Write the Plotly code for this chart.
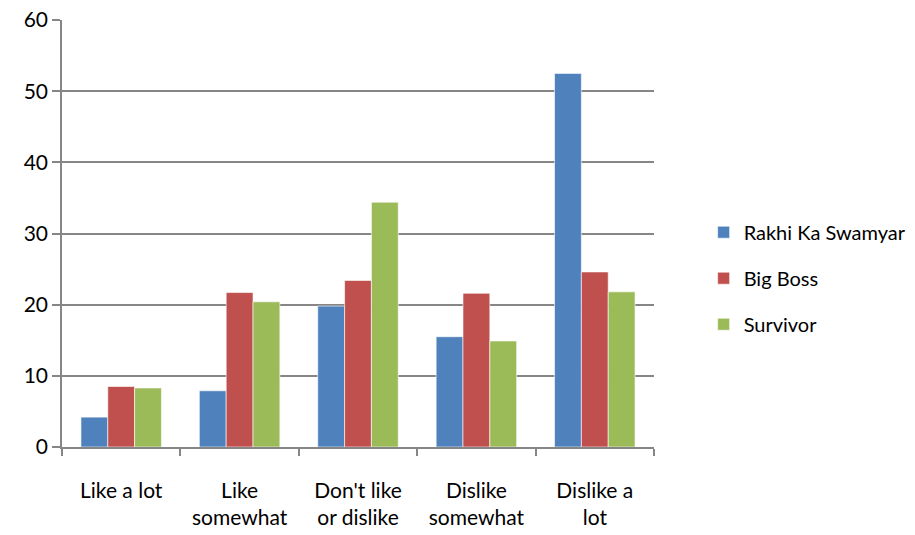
import plotly.graph_objects as go

categories = ["Like a lot", "Like<br>somewhat", "Don't like<br>or dislike", "Dislike<br>somewhat", "Dislike a<br>lot"]
series_names = ["Rakhi Ka Swamyar", "Big Boss", "Survivor"]
rakhi = [4.2, 7.9, 19.8, 15.5, 52.5]
big_boss = [8.5, 21.7, 23.4, 21.6, 24.6]
survivor = [8.3, 20.4, 34.4, 14.9, 21.8]
colors = ["#4F81BD", "#C0504D", "#9BBB59"]
y_ticks = [0, 10, 20, 30, 40, 50, 60]

fig = go.Figure()
for i, (name, vals) in enumerate(zip(series_names, [rakhi, big_boss, survivor])):
    fig.add_trace(go.Bar(
        x=categories, y=vals, name=name, legendgroup=name,
        marker=dict(color=colors[i], line=dict(color="rgba(255,255,255,0.6)", width=1)),
    ))

font_family = "Lato, Carlito, Calibri, sans-serif"
fig.update_layout(
    width=915, height=535,
    margin=dict(l=62, r=261, t=20, b=88, autoexpand=False),
    paper_bgcolor="white", plot_bgcolor="white",
    barmode="group", bargap=0.32, bargroupgap=0,
    font=dict(family=font_family, size=21, color="#000000"),
    showlegend=True,
    legend=dict(x=0.769, y=0.48, xref="container", yref="container",
                xanchor="left", yanchor="middle",
                traceorder="grouped", tracegroupgap=17,
                font=dict(family=font_family, size=20, color="#000")),
    xaxis=dict(
        showline=True, linecolor="#868686", linewidth=1.5,
        ticks="outside", tickson="boundaries", ticklen=7, tickcolor="#868686", tickwidth=1.5,
        showgrid=False, tickfont=dict(size=21), ticklabelstandoff=24,
    ),
    yaxis=dict(
        range=[0, 60], tickvals=y_ticks, ticktext=[str(v) for v in y_ticks],
        showline=True, linecolor="#868686", linewidth=1.5,
        ticks="outside", ticklen=8, tickcolor="#868686", tickwidth=1.5,
        showgrid=True, gridcolor="#868686", gridwidth=1.5,
        zeroline=False, tickfont=dict(size=21),
    ),
)

fig.write_html("out.html")
